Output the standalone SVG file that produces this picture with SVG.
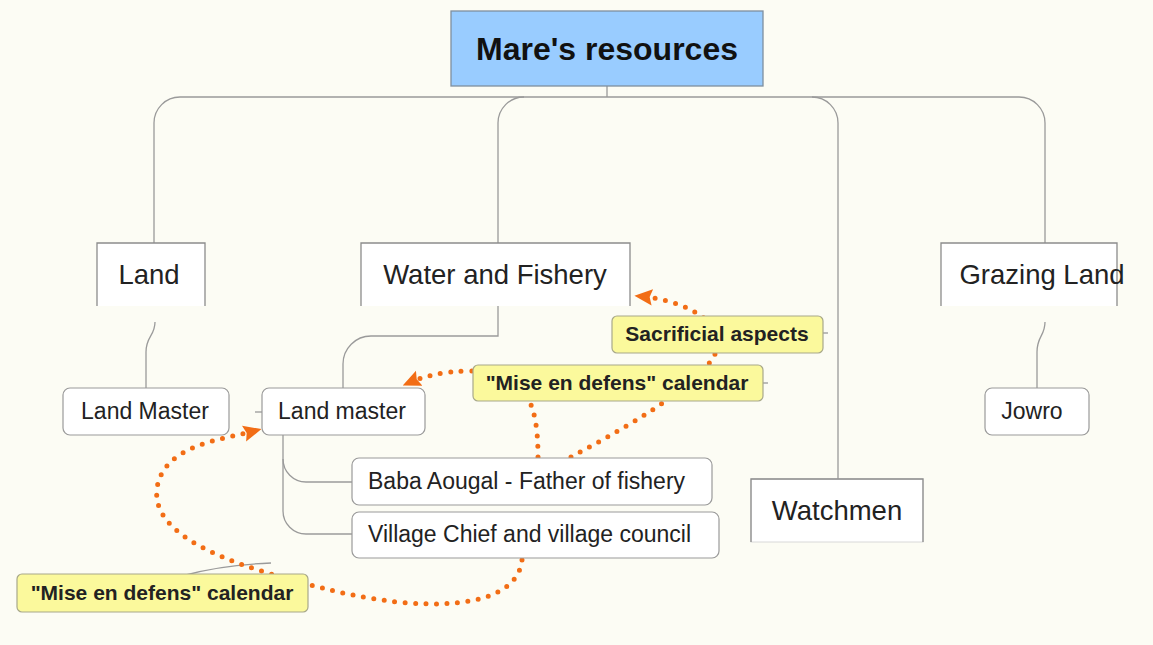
<svg xmlns="http://www.w3.org/2000/svg" width="1153" height="645" viewBox="0 0 1153 645">
<defs>
<style>
.bg{fill:#fcfcf4}
.main{fill:#ffffff}
.side{fill:none;stroke:#8c8c8c;stroke-width:1.3}
.sub{fill:#ffffff;stroke:#9a9a9a;stroke-width:1.2}
.note{fill:#fbf99c;stroke:#a8a88a;stroke-width:1.2}
.tree{fill:none;stroke:#9a9a9a;stroke-width:1.3}
.rel{fill:none;stroke:#f26d15;stroke-width:5;stroke-dasharray:0 10.5;stroke-linecap:round}
.t1{font-family:"Liberation Sans",Arial,sans-serif;font-size:32px;font-weight:bold;fill:#111;text-anchor:middle}
.t2{font-family:"Liberation Sans",Arial,sans-serif;font-size:27.5px;fill:#222;text-anchor:middle}
.t3{font-family:"Liberation Sans",Arial,sans-serif;font-size:23px;fill:#222}
.t4{font-family:"Liberation Sans",Arial,sans-serif;font-size:21px;font-weight:bold;fill:#222;text-anchor:middle}
</style>
<marker id="arr" viewBox="0 0 10 10" refX="8" refY="5" markerWidth="18" markerHeight="18" markerUnits="userSpaceOnUse" orient="auto">
<path d="M0,0.5 L10,5 L0,9.5 L1.5,5 z" fill="#f26d15"/>
</marker>
</defs>
<rect class="bg" x="0" y="0" width="1153" height="645"/>

<g id="connectors">
<path class="tree" d="M607,86 V97"/>
<path class="tree" d="M180,97 H1019"/>
<path class="tree" d="M180,97 A26,26 0 0 0 154,123 V243"/>
<path class="tree" d="M524,97 A26,26 0 0 0 498,123 V243"/>
<path class="tree" d="M812,97 A26,26 0 0 1 838,123 V479"/>
<path class="tree" d="M1019,97 A26,26 0 0 1 1045,123 V243"/>
<path class="tree" d="M155,322 C155,336 146,336 146,352 V388"/>
<path class="tree" d="M1045,322 C1045,336 1037,336 1037,352 V388"/>
<path class="tree" d="M498,306 V336 H371 A28,28 0 0 0 343,364 V388"/>
<path class="tree" d="M283,435 V459 A23,23 0 0 0 306,482 H352"/>
<path class="tree" d="M283,459 V511 A23,23 0 0 0 306,534 H352"/>
<path class="tree" d="M255,412 H262"/>
<path class="tree" d="M823,333 H828"/>
<path class="tree" d="M763,383 H768"/>
<path class="tree" d="M186,575 Q222,565 271,563"/>
<path class="rel" d="M571,457 C640,420 722,372 718,340 C714,316 680,300 638,296" marker-end="url(#arr)"/>
<path class="rel" d="M538,457 C538,400 525,371 470,371 C442,371 422,377 406,384" marker-end="url(#arr)"/>
<path class="rel" d="M522,560 C516,612 420,612 330,590 C250,570 150,542 157,488 C164,445 220,440 258,430" marker-end="url(#arr)"/>
</g>

<g id="root">
<rect x="451" y="11" width="312" height="75" fill="#99ccff" stroke="#7f8f9f" stroke-width="1.3"/>
<text class="t1" x="607" y="60">Mare's resources</text>
</g>

<g id="land">
<rect class="main" x="97" y="243" width="108" height="63"/>
<path class="side" d="M97,306 V243 H205 V306"/>
<text class="t2" x="149" y="284">Land</text>
</g>

<g id="water">
<rect class="main" x="361" y="243" width="269" height="63"/>
<path class="side" d="M361,306 V243 H630 V306"/>
<text class="t2" x="495" y="284">Water and Fishery</text>
</g>

<g id="grazing">
<rect class="main" x="941" y="243" width="176" height="63"/>
<path class="side" d="M941,306 V243 H1117 V306"/>
<text class="t2" x="1042" y="284">Grazing Land</text>
</g>

<g id="watchmen">
<rect class="main" x="751" y="479" width="172" height="63" stroke="#d8d8d8" stroke-width="1"/>
<path class="side" d="M751,542 V479 H923 V542"/>
<text class="t2" x="837" y="520">Watchmen</text>
</g>

<g id="land-master-1">
<rect class="sub" x="63" y="388" width="166" height="47" rx="7"/>
<text class="t3" x="145" y="419" text-anchor="middle">Land Master</text>
</g>

<g id="land-master-2">
<rect class="sub" x="262" y="388" width="163" height="47" rx="7"/>
<text class="t3" x="342" y="419" text-anchor="middle">Land master</text>
</g>

<g id="jowro">
<rect class="sub" x="985" y="388" width="104" height="47" rx="7"/>
<text class="t3" x="1032" y="419" text-anchor="middle">Jowro</text>
</g>

<g id="baba">
<rect class="sub" x="352" y="458" width="360" height="47" rx="7"/>
<text class="t3" x="368" y="489">Baba Aougal - Father of fishery</text>
</g>

<g id="village">
<rect class="sub" x="352" y="512" width="367" height="46" rx="7"/>
<text class="t3" x="368" y="542">Village Chief and village council</text>
</g>

<g id="sacrificial">
<rect class="note" x="612" y="316" width="211" height="37" rx="5"/>
<text class="t4" x="717" y="341">Sacrificial aspects</text>
</g>

<g id="mise-upper">
<rect class="note" x="473" y="365" width="290" height="36" rx="5"/>
<text class="t4" x="617" y="390">"Mise en defens" calendar</text>
</g>

<g id="mise-lower">
<rect class="note" x="17" y="574" width="291" height="38" rx="5"/>
<text class="t4" x="162" y="600">"Mise en defens" calendar</text>
</g>
</svg>
